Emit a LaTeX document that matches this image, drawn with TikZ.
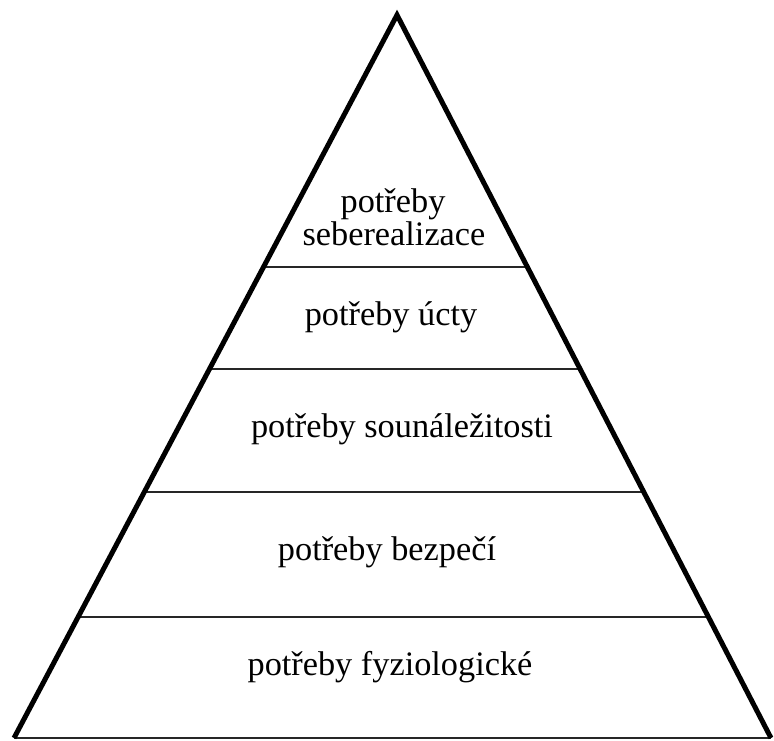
\documentclass[tikz,border=0pt]{standalone}
\usepackage{fontspec}
\setmainfont{Liberation Serif}
\usetikzlibrary{calc}
\begin{document}
\begin{tikzpicture}[x=1pt,y=-1pt,
  side/.style={line width=5pt,line join=miter,black},
  level/.style={line width=1.6pt,black!85},
  lbl/.style={anchor=base,inner sep=0pt,font=\fontsize{34.3}{33}\selectfont,align=center}]
\useasboundingbox (0,0) rectangle (774,740);
\coordinate (A) at (397,15);
\coordinate (L) at (14,738);
\coordinate (R) at (771,738);
% level lines
\foreach \y/\n in {267/a,369/b,492/c,617/d}{
  \pgfmathsetmacro{\t}{(\y-15)/723}
  \coordinate (l\n) at ($(A)!\t!(L)$);
  \coordinate (r\n) at ($(A)!\t!(R)$);
}
\draw[level] (la) -- (ra);
\draw[level] (lb) -- (rb);
\draw[level] (lc) -- (rc);
\draw[level] (ld) -- (rd);
\draw[level] (L) -- (R);
\draw[side] (L) -- (A) -- (R);
% labels
\node[lbl] (t1) at (393,212) {potřeby};
\node[lbl] (t1b) at (394,245) {seberealizace};
\node[lbl] (t2) at (391,325) {potřeby úcty};
\node[lbl] (t3) at (402,437) {potřeby sounáležitosti};
\node[lbl] (t4) at (387,560) {potřeby bezpečí};
\node[lbl] (t5) at (390,675) {potřeby fyziologické};
\end{tikzpicture}
\end{document}
